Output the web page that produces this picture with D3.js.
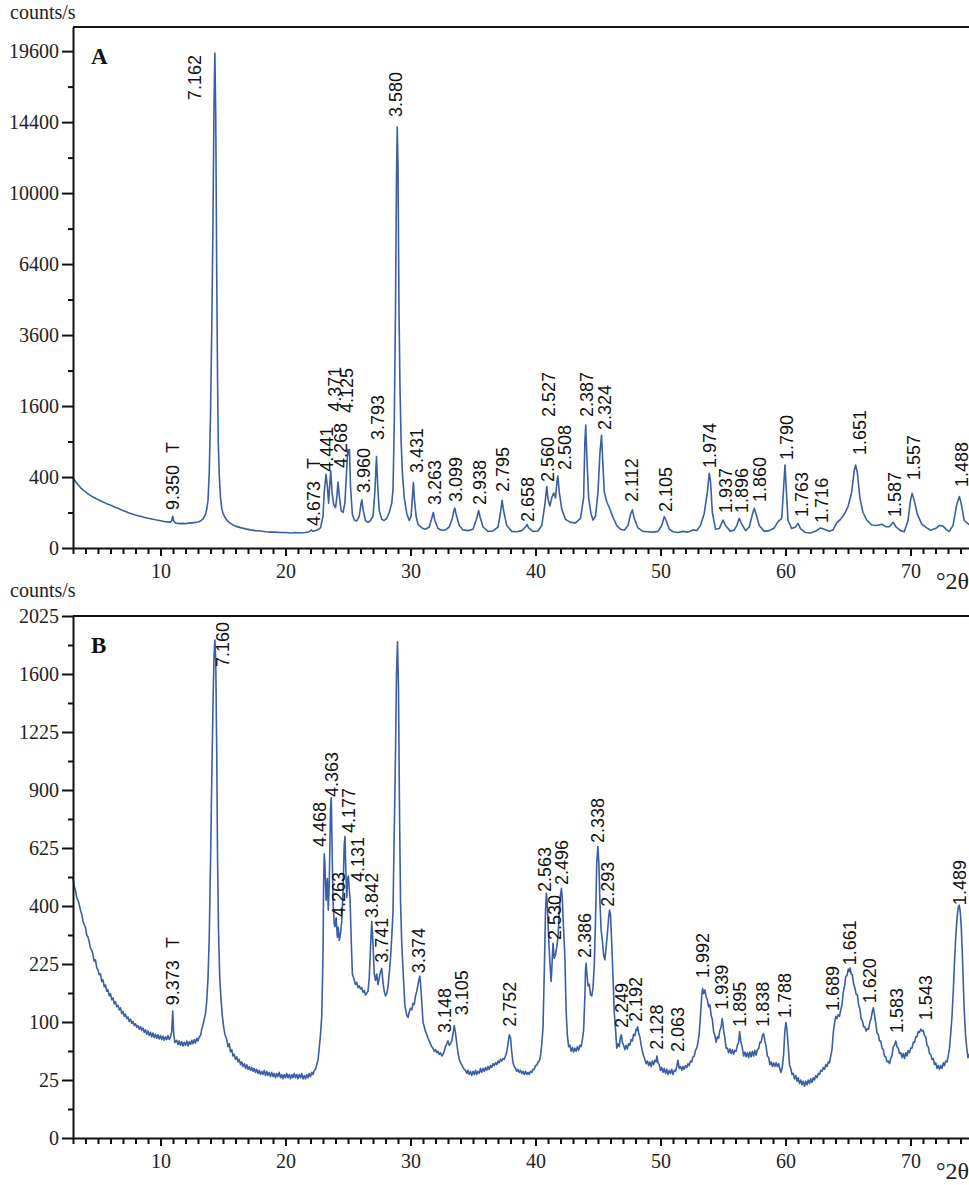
<!DOCTYPE html>
<html>
<head>
<meta charset="utf-8">
<script src="https://cdn.jsdelivr.net/npm/d3@7"></script>
<style>
  body { margin: 0; background: #fff; }
  svg { display: block; }
</style>
</head>
<body>
<svg id="chart" width="969" height="1185"></svg>
<script>
// ---- data (°2θ, counts/s) ----
const traceA = [
  [3.0,389],[3.2,352],[3.4,318],[3.6,290],[3.8,268],[4.0,250],[4.2,232],[4.4,220],[4.6,206],[4.8,196],
  [5.0,186],[5.2,177],[5.4,168],[5.6,160],[5.8,152],[6.0,146],[6.2,138],[6.4,130],[6.6,125],[6.8,118],
  [7.0,112],[7.2,106],[7.4,100],[7.6,95],[7.8,90],[8.0,86],[8.2,83],[8.4,80],[8.6,76],[8.8,73],
  [9.0,70],[9.2,68],[9.4,66],[9.6,63],[9.8,61],[10.0,59],[10.2,57],[10.4,55],[10.6,54],[10.8,53],
  [10.9,60],[10.98,80],[11.05,58],[11.2,50],[11.4,48],[11.6,47],[11.8,48],[12.0,47],[12.2,49],[12.4,50],
  [12.6,50],[12.8,52],[13.0,54],[13.2,58],[13.4,66],[13.6,90],[13.7,120],[13.8,180],[13.9,450],[14.0,1400],
  [14.1,3800],[14.2,8500],[14.28,15500],[14.35,19450],[14.42,14800],[14.5,5800],[14.56,2400],[14.62,900],[14.7,420],[14.8,200],
  [14.9,125],[15.0,95],[15.2,70],[15.4,56],[15.6,48],[15.8,42],[16.0,38],[16.4,33],[16.8,29],[17.2,26],
  [17.6,24],[18.0,23],[18.4,21],[18.8,20],[19.2,20],[19.6,19],[20.0,19],[20.4,18],[20.8,19],[21.2,18],
  [21.6,19],[21.9,21],[22.07,26],[22.2,22],[22.5,25],[22.8,32],[23.0,80],[23.1,250],[23.24,430],[23.35,300],
  [23.45,160],[23.52,280],[23.62,470],[23.72,250],[23.85,150],[24.0,130],[24.1,200],[24.2,345],[24.3,220],[24.45,110],
  [24.6,100],[24.75,160],[24.9,500],[24.98,770],[25.05,690],[25.12,770],[25.2,300],[25.35,90],[25.5,62],[25.7,58],
  [25.9,80],[26.05,160],[26.11,185],[26.2,120],[26.4,60],[26.6,52],[26.8,60],[27.0,80],[27.15,250],[27.28,665],
  [27.38,300],[27.5,110],[27.7,65],[27.9,60],[28.1,70],[28.3,100],[28.5,160],[28.6,270],[28.7,1200],[28.8,4500],
  [28.88,11000],[28.94,14060],[29.0,11500],[29.08,4500],[29.16,2000],[29.25,900],[29.35,450],[29.5,200],[29.7,95],[29.9,60],
  [30.05,80],[30.15,200],[30.23,340],[30.32,180],[30.45,80],[30.6,45],[30.8,36],[31.0,30],[31.2,28],[31.5,35],
  [31.7,70],[31.82,100],[31.95,60],[32.2,30],[32.5,25],[32.8,26],[33.1,35],[33.35,70],[33.5,120],[33.55,126],
  [33.65,90],[33.9,40],[34.2,26],[34.6,24],[35.0,28],[35.3,70],[35.45,112],[35.55,80],[35.8,35],[36.2,22],
  [36.6,23],[37.0,35],[37.2,100],[37.33,180],[37.45,110],[37.7,40],[38.1,22],[38.5,21],[38.9,24],[39.2,35],
  [39.33,44],[39.45,32],[39.8,22],[40.2,23],[40.5,40],[40.75,150],[40.9,300],[41.0,190],[41.15,140],[41.3,200],
  [41.46,240],[41.6,200],[41.72,350],[41.79,410],[41.9,250],[42.1,120],[42.4,65],[42.8,52],[43.2,50],[43.6,70],
  [43.85,200],[43.95,900],[44.02,1200],[44.1,700],[44.25,200],[44.45,90],[44.6,62],[44.8,80],[45.0,250],[45.15,700],
  [45.28,1010],[45.38,600],[45.5,250],[45.7,170],[45.9,130],[46.2,75],[46.5,40],[46.8,28],[47.1,25],[47.4,40],
  [47.6,90],[47.75,115],[47.9,70],[48.2,32],[48.6,22],[49.0,21],[49.4,20],[49.8,22],[50.1,40],[50.3,78],
  [50.45,60],[50.7,28],[51.0,21],[51.4,19],[51.8,22],[52.2,20],[52.6,26],[52.9,24],[53.2,40],[53.5,95],
  [53.75,250],[53.9,443],[54.0,350],[54.15,100],[54.4,28],[54.7,30],[55.0,62],[55.2,40],[55.6,22],[55.9,26],
  [56.1,40],[56.3,70],[56.45,50],[56.8,24],[57.1,35],[57.35,90],[57.5,125],[57.65,90],[57.9,40],[58.3,22],
  [58.7,24],[59.1,32],[59.4,55],[59.7,70],[59.9,400],[59.96,547],[60.05,300],[60.2,60],[60.5,30],[60.8,35],
  [61.0,48],[61.2,30],[61.6,19],[62.0,18],[62.4,22],[62.8,32],[63.1,28],[63.5,22],[63.8,26],[64.1,50],
  [64.4,65],[64.7,90],[65.0,135],[65.3,250],[65.5,480],[65.61,547],[65.75,450],[65.95,200],[66.2,100],[66.5,62],
  [66.9,42],[67.3,40],[67.7,45],[68.0,36],[68.3,36],[68.62,52],[68.85,35],[69.2,24],[69.5,21],[69.8,60],
  [70.0,180],[70.13,237],[70.3,180],[70.55,90],[70.9,45],[71.3,32],[71.6,25],[72.0,30],[72.3,40],[72.6,38],
  [72.9,26],[73.1,22],[73.4,40],[73.7,150],[73.91,210],[74.05,160],[74.3,60],[74.64,45],[75.0,40]
];

const traceB = [
  [3.0,501],[3.1,470],[3.2,455],[3.3,430],[3.4,420],[3.5,405],[3.6,385],[3.7,372],[3.8,350],[3.9,338],
  [4.0,330],[4.1,305],[4.2,300],[4.3,285],[4.4,268],[4.5,262],[4.6,250],[4.7,232],[4.8,236],[4.9,215],
  [5.0,210],[5.1,198],[5.2,200],[5.3,182],[5.4,186],[5.5,170],[5.6,174],[5.7,160],[5.8,163],[5.9,150],
  [6.0,155],[6.1,142],[6.2,146],[6.3,134],[6.4,138],[6.5,128],[6.6,131],[6.7,122],[6.8,126],[6.9,115],
  [7.0,119],[7.1,110],[7.2,114],[7.3,106],[7.4,109],[7.5,101],[7.6,105],[7.7,98],[7.8,101],[7.9,94],
  [8.0,97],[8.1,91],[8.2,94],[8.3,88],[8.4,92],[8.5,86],[8.6,90],[8.7,83],[8.8,87],[8.9,80],
  [9.0,85],[9.1,78],[9.2,83],[9.3,76],[9.4,82],[9.5,75],[9.6,80],[9.7,74],[9.8,79],[9.9,73],
  [10.0,78],[10.1,72],[10.2,77],[10.3,71],[10.4,76],[10.5,72],[10.6,78],[10.7,72],[10.8,76],[10.9,85],
  [10.98,120],[11.05,82],[11.15,68],[11.3,71],[11.4,65],[11.5,70],[11.6,64],[11.7,69],[11.8,63],[11.9,68],
  [12.0,64],[12.1,70],[12.2,63],[12.3,69],[12.4,65],[12.5,71],[12.6,66],[12.7,72],[12.8,67],[12.9,74],
  [13.0,70],[13.1,76],[13.2,78],[13.3,88],[13.4,95],[13.5,105],[13.6,115],[13.7,140],[13.8,190],[13.9,300],
  [14.0,560],[14.1,950],[14.2,1400],[14.28,1720],[14.35,1843],[14.42,1700],[14.5,1100],[14.56,600],[14.64,320],[14.74,190],
  [14.85,140],[14.95,110],[15.05,92],[15.15,80],[15.3,72],[15.4,62],[15.5,66],[15.6,55],[15.7,58],[15.8,50],
  [15.9,52],[16.0,46],[16.1,49],[16.2,43],[16.3,46],[16.4,40],[16.5,43],[16.6,38],[16.7,41],[16.8,36],
  [16.9,40],[17.0,35],[17.1,38],[17.2,34],[17.3,37],[17.4,33],[17.5,36],[17.6,32],[17.7,35],[17.8,31],
  [17.9,34],[18.0,30],[18.1,33],[18.2,30],[18.3,34],[18.4,29],[18.5,33],[18.6,29],[18.7,32],[18.8,28],
  [18.9,32],[19.0,28],[19.1,31],[19.2,27],[19.3,31],[19.4,28],[19.5,32],[19.6,27],[19.7,30],[19.8,26],
  [19.9,30],[20.0,27],[20.1,31],[20.2,27],[20.3,30],[20.4,26],[20.5,30],[20.6,27],[20.7,31],[20.8,27],
  [20.9,30],[21.0,26],[21.1,30],[21.2,27],[21.3,31],[21.4,26],[21.5,29],[21.6,26],[21.7,30],[21.8,27],
  [21.9,31],[22.0,28],[22.1,32],[22.2,30],[22.3,34],[22.4,35],[22.5,40],[22.6,45],[22.7,60],[22.8,80],
  [22.9,110],[23.0,250],[23.05,480],[23.1,600],[23.15,560],[23.25,420],[23.35,500],[23.42,386],[23.5,480],[23.6,800],
  [23.66,860],[23.72,650],[23.8,420],[23.9,340],[23.96,332],[24.05,360],[24.15,300],[24.22,330],[24.3,290],[24.4,310],
  [24.5,350],[24.6,450],[24.7,640],[24.76,675],[24.82,540],[24.9,430],[24.97,500],[25.03,510],[25.1,460],[25.16,430],
  [25.25,300],[25.35,200],[25.45,190],[25.6,175],[25.7,180],[25.8,168],[25.9,172],[26.0,165],[26.1,168],[26.2,158],
  [26.3,162],[26.4,152],[26.5,156],[26.6,160],[26.7,190],[26.8,270],[26.9,348],[27.0,280],[27.1,200],[27.2,185],
  [27.3,200],[27.4,175],[27.5,190],[27.6,205],[27.7,214],[27.8,180],[27.9,160],[28.0,150],[28.1,155],[28.2,170],
  [28.3,200],[28.4,240],[28.5,300],[28.6,380],[28.7,700],[28.8,1100],[28.88,1600],[28.96,1830],[29.04,1500],[29.12,800],
  [29.2,420],[29.3,280],[29.42,200],[29.55,130],[29.7,112],[29.8,108],[29.9,118],[30.0,125],[30.1,122],[30.2,135],
  [30.3,132],[30.4,150],[30.5,160],[30.6,175],[30.7,190],[30.75,195],[30.85,160],[31.0,100],[31.1,92],[31.2,84],
  [31.3,80],[31.4,74],[31.5,70],[31.6,66],[31.7,62],[31.8,60],[31.9,56],[32.0,58],[32.1,54],[32.2,56],
  [32.3,52],[32.4,54],[32.5,50],[32.6,52],[32.7,56],[32.8,62],[32.9,66],[33.0,70],[33.1,64],[33.2,66],
  [33.3,70],[33.4,80],[33.5,94],[33.6,82],[33.7,66],[33.8,54],[33.9,46],[34.0,42],[34.1,40],[34.2,37],
  [34.3,35],[34.4,34],[34.5,31],[34.6,34],[34.7,30],[34.8,33],[34.9,29],[35.0,33],[35.1,30],[35.2,34],
  [35.3,30],[35.4,33],[35.5,31],[35.6,36],[35.7,32],[35.8,36],[35.9,33],[36.0,37],[36.1,34],[36.2,38],
  [36.3,35],[36.4,39],[36.5,37],[36.6,41],[36.7,39],[36.8,42],[36.9,40],[37.0,44],[37.1,42],[37.2,46],
  [37.3,44],[37.4,47],[37.5,46],[37.6,50],[37.7,55],[37.8,66],[37.9,79],[38.0,75],[38.1,55],[38.2,42],
  [38.3,38],[38.4,36],[38.5,33],[38.6,35],[38.7,32],[38.8,34],[38.9,31],[39.0,33],[39.1,30],[39.2,33],
  [39.3,30],[39.4,32],[39.5,30],[39.6,33],[39.7,32],[39.8,35],[39.9,35],[40.0,39],[40.1,39],[40.2,43],
  [40.3,44],[40.4,50],[40.5,65],[40.6,90],[40.7,200],[40.8,380],[40.87,445],[40.95,400],[41.05,300],[41.15,230],
  [41.25,182],[41.3,210],[41.4,282],[41.5,240],[41.6,250],[41.7,272],[41.8,300],[41.9,380],[42.0,440],[42.08,463],
  [42.15,420],[42.25,320],[42.35,244],[42.45,120],[42.55,78],[42.65,62],[42.75,64],[42.85,56],[42.95,61],[43.05,55],
  [43.15,60],[43.25,56],[43.35,62],[43.45,57],[43.55,64],[43.65,62],[43.75,72],[43.85,86],[43.95,150],[44.0,210],
  [44.05,227],[44.12,198],[44.2,172],[44.3,176],[44.4,152],[44.5,150],[44.6,168],[44.7,220],[44.8,350],[44.9,560],
  [44.99,631],[45.07,560],[45.15,420],[45.25,320],[45.35,290],[45.45,248],[45.55,236],[45.65,270],[45.75,310],[45.85,360],
  [45.92,386],[46.0,372],[46.1,280],[46.2,193],[46.3,118],[46.4,88],[46.5,60],[46.6,66],[46.7,62],[46.8,76],
  [46.87,79],[46.95,68],[47.05,64],[47.15,58],[47.25,64],[47.35,59],[47.45,66],[47.55,64],[47.65,72],[47.75,70],
  [47.85,80],[47.95,78],[48.05,88],[48.12,86],[48.17,92],[48.25,82],[48.35,76],[48.45,64],[48.55,56],[48.65,50],
  [48.75,46],[48.85,41],[48.95,44],[49.05,39],[49.15,43],[49.25,38],[49.35,44],[49.45,40],[49.55,45],[49.65,43],
  [49.71,50],[49.8,42],[49.9,40],[50.0,34],[50.1,37],[50.2,32],[50.3,36],[50.4,31],[50.5,35],[50.6,30],
  [50.7,34],[50.8,31],[50.9,35],[51.0,30],[51.1,34],[51.2,33],[51.3,38],[51.39,45],[51.5,36],[51.6,38],
  [51.7,34],[51.8,38],[51.9,35],[52.0,39],[52.1,37],[52.2,41],[52.3,39],[52.4,44],[52.5,43],[52.6,49],
  [52.7,50],[52.8,57],[52.9,60],[53.0,68],[53.1,82],[53.2,112],[53.3,150],[53.37,166],[53.45,155],[53.55,163],
  [53.65,148],[53.75,142],[53.85,128],[53.95,132],[54.05,112],[54.15,104],[54.25,84],[54.35,78],[54.45,68],[54.55,76],
  [54.65,74],[54.75,86],[54.85,92],[54.94,106],[55.05,86],[55.15,74],[55.25,60],[55.35,60],[55.45,54],[55.55,59],
  [55.65,53],[55.75,58],[55.85,52],[55.95,57],[56.05,56],[56.15,64],[56.25,68],[56.33,84],[56.42,70],[56.55,60],
  [56.65,50],[56.75,55],[56.85,49],[56.95,54],[57.05,48],[57.15,55],[57.25,49],[57.35,56],[57.45,50],[57.55,57],
  [57.65,51],[57.75,58],[57.85,59],[57.95,68],[58.05,68],[58.15,78],[58.25,81],[58.35,70],[58.45,62],[58.55,50],
  [58.65,48],[58.75,40],[58.85,43],[58.95,38],[59.05,42],[59.15,38],[59.25,42],[59.35,38],[59.45,41],[59.55,35],
  [59.65,32],[59.75,38],[59.85,52],[59.95,86],[60.04,99],[60.12,86],[60.22,62],[60.32,40],[60.42,36],[60.52,30],
  [60.62,31],[60.72,26],[60.82,29],[60.92,24],[61.02,27],[61.12,22],[61.22,25],[61.32,21],[61.42,24],[61.52,20],
  [61.62,24],[61.72,21],[61.82,25],[61.92,22],[62.02,26],[62.12,23],[62.22,27],[62.32,25],[62.42,29],[62.52,27],
  [62.62,31],[62.72,30],[62.82,34],[62.92,33],[63.02,37],[63.12,35],[63.22,40],[63.32,38],[63.42,43],[63.52,42],
  [63.62,50],[63.72,58],[63.82,82],[63.92,98],[64.02,110],[64.12,106],[64.22,113],[64.32,110],[64.42,122],[64.52,132],
  [64.62,158],[64.72,170],[64.82,194],[64.92,196],[65.02,212],[65.1,206],[65.17,215],[65.25,200],[65.35,198],[65.45,176],
  [65.55,168],[65.65,154],[65.75,152],[65.85,132],[65.95,124],[66.05,106],[66.15,102],[66.25,92],[66.35,92],[66.45,85],
  [66.55,89],[66.65,88],[66.75,100],[66.85,106],[66.95,120],[67.03,126],[67.12,112],[67.22,98],[67.32,82],[67.42,80],
  [67.52,70],[67.62,70],[67.72,60],[67.82,58],[67.92,50],[68.02,49],[68.12,43],[68.22,44],[68.32,41],[68.42,47],
  [68.52,50],[68.62,62],[68.72,64],[68.82,70],[68.92,62],[69.02,60],[69.12,53],[69.22,54],[69.32,48],[69.42,53],
  [69.52,47],[69.62,54],[69.72,50],[69.82,57],[69.92,54],[70.02,60],[70.12,60],[70.22,68],[70.32,68],[70.42,76],
  [70.52,76],[70.62,84],[70.72,83],[70.82,88],[70.92,85],[71.02,86],[71.12,78],[71.22,76],[71.32,64],[71.42,62],
  [71.52,53],[71.62,52],[71.72,46],[71.82,47],[71.92,40],[72.02,42],[72.12,36],[72.22,39],[72.32,35],[72.42,39],
  [72.52,36],[72.62,42],[72.72,39],[72.82,44],[72.92,43],[73.02,50],[73.12,60],[73.22,82],[73.32,110],[73.42,160],
  [73.52,230],[73.62,300],[73.72,360],[73.82,395],[73.9,403],[73.98,380],[74.06,330],[74.14,260],[74.22,180],[74.3,120],
  [74.4,80],[74.5,60],[74.6,48],[74.7,52],[75.0,46]
];

// peak labels: [°2θ, counts/s at the foot of the text, d-spacing text]
const labelsA = [
  [11.0,115,"9.350"],[12.76,15925,"7.162"],[22.28,38,"4.673"],[23.32,462,"4.441"],[23.96,1475,"4.371"],
  [24.44,508,"4.268"],[24.92,1446,"4.125"],[26.28,240,"3.960"],[27.4,926,"3.793"],[28.84,14740,"3.580"],
  [30.52,446,"3.431"],[31.96,147,"3.263"],[33.64,168,"3.099"],[35.56,147,"2.938"],[37.4,249,"2.795"],
  [39.4,54,"2.658"],[41.0,346,"2.560"],[41.08,1362,"2.527"],[42.36,483,"2.508"],[44.12,1362,"2.387"],
  [45.56,1105,"2.324"],[47.72,168,"2.112"],[50.44,103,"2.105"],[53.96,508,"1.974"],[55.24,97,"1.937"],
  [56.52,97,"1.896"],[57.96,168,"1.860"],[60.12,614,"1.790"],[61.32,76,"1.763"],[62.92,50,"1.716"],
  [65.96,686,"1.651"],[68.76,76,"1.587"],[70.28,367,"1.557"],[74.1,295,"1.488"]
];
const labelsB = [
  [11.0,131,"9.373"],[15.0,1648,"7.160"],[22.76,629,"4.468"],[23.72,864,"4.363"],[25.08,691,"4.177"],
  [25.8,487,"4.131"],[24.28,363,"4.263"],[26.92,360,"3.842"],[27.72,228,"3.741"],[30.68,202,"3.374"],
  [32.76,82,"3.148"],[34.12,112,"3.105"],[37.96,92,"2.752"],[40.76,450,"2.563"],[41.56,291,"2.530"],
  [42.12,476,"2.496"],[43.96,241,"2.386"],[45.0,647,"2.338"],[45.8,397,"2.293"],[46.92,90,"2.249"],
  [48.04,100,"2.192"],[49.72,58,"2.128"],[51.4,55,"2.063"],[53.4,190,"1.992"],[54.92,122,"1.939"],
  [56.36,92,"1.895"],[58.2,92,"1.838"],[59.96,107,"1.788"],[63.8,120,"1.689"],[65.16,222,"1.661"],
  [66.76,135,"1.620"],[68.92,82,"1.583"],[71.24,103,"1.543"],[73.96,403,"1.489"]
];
// "T" markers: [°2θ, counts/s at the foot]
const markA = [[11.0,716],[22.28,495]];
const markB = [[11.0,268]];

const xTicks = [10,20,30,40,50,60,70];
const xMinor = d3.range(3,76,1).filter(v => v % 10 !== 0);
const yTicksA = [0,400,1600,3600,6400,10000,14400,19600];
const yMinorA = [100,900,2500,4900,8100,12100,16900];
const yTicksB = [0,25,100,225,400,625,900,1225,1600,2025];
const yMinorB = [6.25,56.25,156.25,306.25,506.25,756.25,1056.25,1406.25,1806.25];

const svg = d3.select("#chart");
const serif = "'Liberation Serif','Times New Roman',serif";
const sans = "'Liberation Sans',Arial,sans-serif";
const lineColor = "#3a5ea7";

const x = d3.scaleLinear().domain([3, 75]).range([73, 973]);

function drawPanel(p) {
  const y = d3.scaleSqrt().domain([0, p.yMax]).range([p.bottom, p.top]);
  const g = svg.append("g");

  // trace
  g.append("path")
    .datum(p.trace)
    .attr("fill", "none")
    .attr("stroke", lineColor)
    .attr("stroke-width", 1.6)
    .attr("stroke-linejoin", "round")
    .attr("d", d3.line().x(d => x(d[0])).y(d => y(d[1])));

  // frame: top line
  g.append("line")
    .attr("x1", 73).attr("x2", 973)
    .attr("y1", p.top).attr("y2", p.top)
    .attr("stroke", "#111").attr("stroke-width", 2);

  // y axis
  g.append("g").attr("transform", "translate(73,0)")
    .call(d3.axisLeft(y).tickValues(p.yTicks).tickSize(11).tickPadding(3).tickSizeOuter(0).tickFormat(d3.format("d")));
  g.append("g").attr("transform", "translate(73,0)")
    .call(d3.axisLeft(y).tickValues(p.yMinor).tickSize(5).tickFormat(""))
    .select(".domain").remove();

  // x axis
  g.append("g").attr("transform", `translate(0,${p.bottom})`)
    .call(d3.axisBottom(x).tickValues(xTicks).tickSize(8).tickPadding(8).tickSizeOuter(0));
  g.append("g").attr("transform", `translate(0,${p.bottom})`)
    .call(d3.axisBottom(x).tickValues(xMinor).tickSize(6).tickFormat(""))
    .select(".domain").remove();

  g.selectAll(".domain").attr("stroke", "#111").attr("stroke-width", 2);
  g.selectAll(".tick line").attr("stroke", "#111").attr("stroke-width", 2);
  g.selectAll(".tick text").attr("font-family", serif).attr("font-size", 20).attr("fill", "#222");

  // peak labels
  g.selectAll(".peak")
    .data(p.labels)
    .enter().append("text")
    .attr("class", "peak")
    .attr("transform", d => `translate(${x(d[0])},${y(d[1])}) rotate(-90)`)
    .attr("dy", "0.35em")
    .attr("font-family", sans)
    .attr("font-size", 18)
    .attr("fill", "#111")
    .text(d => d[2]);

  g.selectAll(".mark")
    .data(p.marks)
    .enter().append("text")
    .attr("class", "mark")
    .attr("transform", d => `translate(${x(d[0])},${y(d[1])}) rotate(-90)`)
    .attr("dy", "0.35em")
    .attr("font-family", sans)
    .attr("font-size", 18)
    .attr("fill", "#111")
    .text("T");

  // titles
  g.append("text").attr("x", 10).attr("y", p.unitY)
    .attr("font-family", serif).attr("font-size", 20).attr("fill", "#222").text("counts/s");
  g.append("text").attr("x", 91).attr("y", p.top + 37)
    .attr("font-family", serif).attr("font-size", 23).attr("font-weight", "bold").attr("fill", "#111").text(p.name);
  g.append("text").attr("x", 936).attr("y", p.bottom + 41)
    .attr("font-family", serif).attr("font-size", 24).attr("fill", "#222").text("°2θ");
}

drawPanel({ name: "A", trace: traceA, labels: labelsA, marks: markA, top: 27, bottom: 548, unitY: 19,
  yMax: 21550, yTicks: yTicksA, yMinor: yMinorA });
drawPanel({ name: "B", trace: traceB, labels: labelsB, marks: markB, top: 616, bottom: 1138, unitY: 597,
  yMax: 2025, yTicks: yTicksB, yMinor: yMinorB });
</script>
</body>
</html>
